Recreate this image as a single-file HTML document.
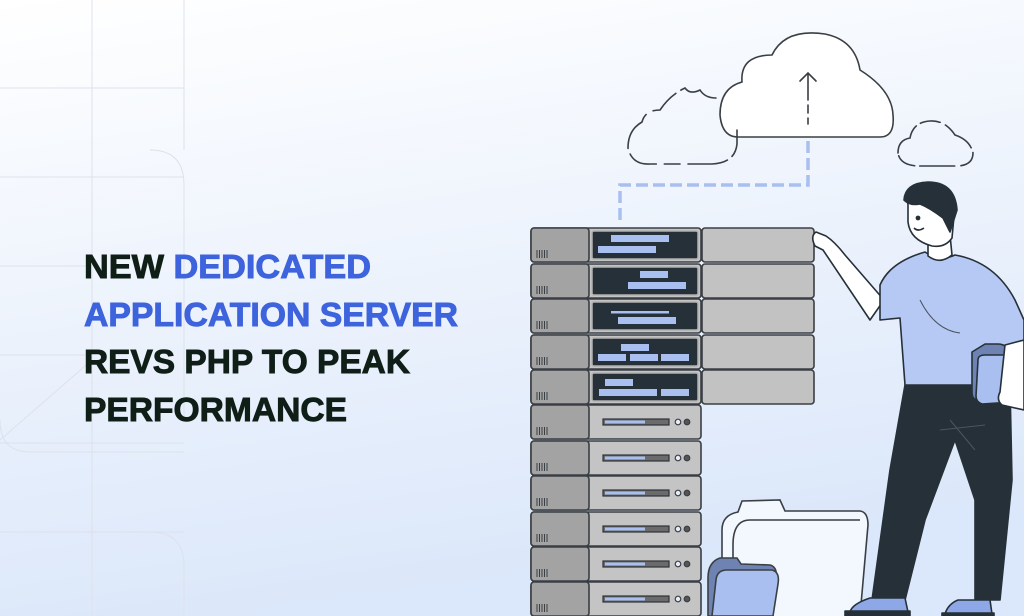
<!DOCTYPE html>
<html><head><meta charset="utf-8"><style>
html,body{margin:0;padding:0;width:1024px;height:616px;overflow:hidden}
svg{display:block}
</style></head><body>
<svg width="1024" height="616" viewBox="0 0 1024 616" xmlns="http://www.w3.org/2000/svg">
<defs>
<linearGradient id="bg" x1="0" y1="0" x2="0.25" y2="1">
<stop offset="0" stop-color="#ffffff"/><stop offset="1" stop-color="#dbe7fa"/>
</linearGradient>
<g id="rowL">
<rect x="531" y="0" width="170" height="34" rx="3" fill="#c4c4c4" stroke="#3a3f44" stroke-width="1.6"/>
<rect x="531" y="0" width="58" height="34" rx="3" fill="#a3a3a3" stroke="#3a3f44" stroke-width="1.6"/>
<g stroke="#3a3f44" stroke-width="1"><line x1="537" y1="22" x2="537" y2="30"/><line x1="539.5" y1="22" x2="539.5" y2="30"/><line x1="542" y1="22" x2="542" y2="30"/><line x1="544.5" y1="22" x2="544.5" y2="30"/><line x1="547" y1="22" x2="547" y2="30"/></g>
</g>
<g id="slot">
<rect x="603" y="14" width="66" height="6" fill="#6b6b6b" stroke="#2e3338" stroke-width="1.2"/>
<rect x="605" y="15.5" width="40" height="3" fill="#a9bff0"/>
<circle cx="678" cy="17" r="2.8" fill="#e6ecf8" stroke="#3a3f44" stroke-width="1.2"/>
<circle cx="687" cy="17" r="2.8" fill="#555" stroke="#3a3f44" stroke-width="1.2"/>
</g>
<g id="scr"><rect x="592" y="3" width="106" height="28" rx="2" fill="#263038" stroke="#b0b0b0" stroke-width="1.5"/></g>
<g id="rgt"><rect x="702" y="0" width="112" height="34" rx="3" fill="#c2c2c2" stroke="#3a3f44" stroke-width="1.6"/></g>
</defs>
<rect width="1024" height="616" fill="url(#bg)"/>
<g stroke="#dde2ea" stroke-width="1" fill="none">
<line x1="92" y1="0" x2="92" y2="616"/>
<line x1="184" y1="0" x2="184" y2="150"/>
<line x1="0" y1="88" x2="184" y2="88"/>
<line x1="0" y1="177" x2="184" y2="177"/>
<line x1="0" y1="266" x2="92" y2="266"/>
<line x1="0" y1="355" x2="92" y2="355"/>
<line x1="0" y1="443" x2="184" y2="443"/>
<line x1="0" y1="532" x2="184" y2="532"/>
<path d="M150 150 Q184 150 184 185 L184 420"/>
<path d="M0 420 Q0 452 30 452 L184 452"/>
<path d="M150 532 Q184 532 184 566 L184 616"/>
<line x1="0" y1="440" x2="92" y2="360"/>
</g>
<g font-family="Liberation Sans, sans-serif" font-weight="bold" font-size="33" stroke-width="0.9">
<text x="84" y="278" fill="#0f1f17" stroke="#0f1f17" textLength="287" lengthAdjust="spacingAndGlyphs">NEW <tspan fill="#3d63dd" stroke="#3d63dd">DEDICATED</tspan></text>
<text x="84" y="326" fill="#3d63dd" stroke="#3d63dd" textLength="374" lengthAdjust="spacingAndGlyphs">APPLICATION SERVER</text>
<text x="84" y="373" fill="#0f1f17" stroke="#0f1f17" textLength="326" lengthAdjust="spacingAndGlyphs">REVS PHP TO PEAK</text>
<text x="84" y="421" fill="#0f1f17" stroke="#0f1f17" textLength="263" lengthAdjust="spacingAndGlyphs">PERFORMANCE</text>
</g>
<g fill="none" stroke="#3a3f44" stroke-width="1.6" stroke-linecap="round">
<path d="M738 137 L880 137 Q895 137 893 115 Q892 90 860 70 Q855 40 825 34 Q785 28 772 55 Q740 55 742 82 Q720 88 720 115 Q722 137 738 137 Z" fill="#ffffff"/>
<path d="M808 73 L808 100 M800 81 L808 73 L816 81"/>
<path d="M808 105 L808 113 M808 118 L808 124" />
<path d="M716 98 Q705 98 700 90 Q690 95 685 88 Q670 95 660 110 Q645 110 642 122 Q628 130 628 148 Q632 165 650 164 L680 164 M688 164 L712 164 Q735 163 737 144 L737 130" stroke-dasharray="40 6 30 8"/>
<path d="M898 153 Q898 140 910 138 Q913 122 930 121 Q945 120 955 135 Q970 140 973 153 Q973 165 958 166 L920 166 Q900 166 898 153" stroke-dasharray="35 5 20 6"/>
</g>
<g fill="none" stroke="#a9bff0" stroke-width="3.5">
<path d="M808 141 L808 185 L620 185 L620 220" stroke-dasharray="12 5"/>
</g>
<g transform="translate(0,228)"><use href="#rowL"/><use href="#scr"/><use href="#rgt"/>
<rect x="611" y="7" width="58" height="7" fill="#a9bff0"/><rect x="598" y="18" width="58" height="7" fill="#a9bff0"/></g>
<g transform="translate(0,264)"><use href="#rowL"/><use href="#scr"/><use href="#rgt"/>
<rect x="640" y="7" width="28" height="7" fill="#a9bff0"/><rect x="628" y="18" width="58" height="7" fill="#a9bff0"/></g>
<g transform="translate(0,299)"><use href="#rowL"/><use href="#scr"/><use href="#rgt"/>
<rect x="611" y="12" width="58" height="2.5" fill="#a9bff0"/><rect x="618" y="18" width="58" height="7" fill="#a9bff0"/></g>
<g transform="translate(0,335)"><use href="#rowL"/><use href="#scr"/><use href="#rgt"/>
<rect x="621" y="9" width="28" height="7" fill="#a9bff0"/><rect x="598" y="19" width="28" height="7" fill="#a9bff0"/><rect x="630" y="19" width="28" height="7" fill="#a9bff0"/><rect x="661" y="19" width="28" height="7" fill="#a9bff0"/></g>
<g transform="translate(0,370)"><use href="#rowL"/><use href="#scr"/><use href="#rgt"/>
<rect x="605" y="9" width="28" height="7" fill="#a9bff0"/><rect x="599" y="19" width="58" height="7" fill="#a9bff0"/><rect x="661" y="19" width="28" height="7" fill="#a9bff0"/></g>
<g transform="translate(0,405)"><use href="#rowL"/><use href="#slot"/></g>
<g transform="translate(0,441)"><use href="#rowL"/><use href="#slot"/></g>
<g transform="translate(0,476)"><use href="#rowL"/><use href="#slot"/></g>
<g transform="translate(0,512)"><use href="#rowL"/><use href="#slot"/></g>
<g transform="translate(0,547)"><use href="#rowL"/><use href="#slot"/></g>
<g transform="translate(0,582)"><use href="#rowL"/><use href="#slot"/></g>
<g stroke="#3a3f44" stroke-width="1.6">
<path d="M722 616 L722 530 Q722 515 738 512 L742 501 L780 500 L785 511 L860 511 Q868 512 868 525 L860 616" fill="#f3f7fe"/>
<path d="M733 616 L733 545 Q733 520 750 520 L860 520" fill="none"/>
<path d="M708 616 L708 578 Q708 562 720 558 L737 558 L741 564 L770 565 Q778 567 776 580 L772 616 Z" fill="#6f83b3"/>
<path d="M712 616 L716 580 Q717 570 727 570 L772 570 Q780 572 778 584 L773 616 Z" fill="#a9bff0"/>
</g>
<g stroke="#263038" stroke-width="1.6" stroke-linejoin="round">
<path d="M905 385 L1010 385 L1012 480 L1000 600 L975 600 L975 500 L955 440 L925 520 L905 600 L872 600 L890 470 Z" fill="#263038"/>
<path d="M870 598 L905 598 L908 612 L850 612 Q852 604 870 598 Z" fill="#8ea7e6"/>
<path d="M958 600 L990 600 L992 614 L945 614 Q948 604 958 600 Z" fill="#8ea7e6"/>
<rect x="845" y="611" width="65" height="5" fill="#263038"/>
<rect x="942" y="613" width="52" height="3" fill="#263038"/>
<path d="M884 300 L845 255 Q835 242 826 236 L816 232 Q810 236 815 246 L823 250 L870 320 Z" fill="#ffffff"/>
<path d="M880 285 Q890 262 925 252 Q940 262 955 255 Q995 262 1015 300 L1024 320 L1024 345 L1005 360 L1008 385 L905 385 L900 318 L880 320 Z" fill="#b6c9f5"/>
<path d="M928 238 L928 256 Q940 265 952 255 L950 235 Z" fill="#ffffff"/>
<path d="M908 205 Q905 190 925 186 Q950 183 955 205 L952 238 Q945 248 932 246 Q910 240 908 222 Z" fill="#ffffff"/>
<path d="M904 200 Q905 183 928 182 Q955 182 957 210 L950 232 L943 218 Q930 208 920 204 Q910 206 904 200 Z" fill="#263038"/>
<circle cx="918" cy="218" r="1.6" fill="#263038"/>
<path d="M914 228 Q918 232 924 228" fill="none"/>
<path d="M972 352 L972 392 Q972 400 978 400 L1008 400 L1010 352 Q1006 344 998 344 L985 344 Z" fill="#6f83b3"/>
<path d="M978 360 Q978 355 985 355 L1012 355 L1012 402 L982 404 Q976 402 976 396 Z" fill="#a9bff0"/>
<path d="M1005 345 L1024 340 L1024 410 L1002 405 Q996 400 1000 392 Z" fill="#ffffff"/>
</g>
<g stroke="#4a5560" stroke-width="1" fill="none">
<path d="M950 420 L975 450 M940 430 L985 425"/>
<path d="M920 300 Q935 330 960 333"/>
</g>
</svg>
</body></html>
